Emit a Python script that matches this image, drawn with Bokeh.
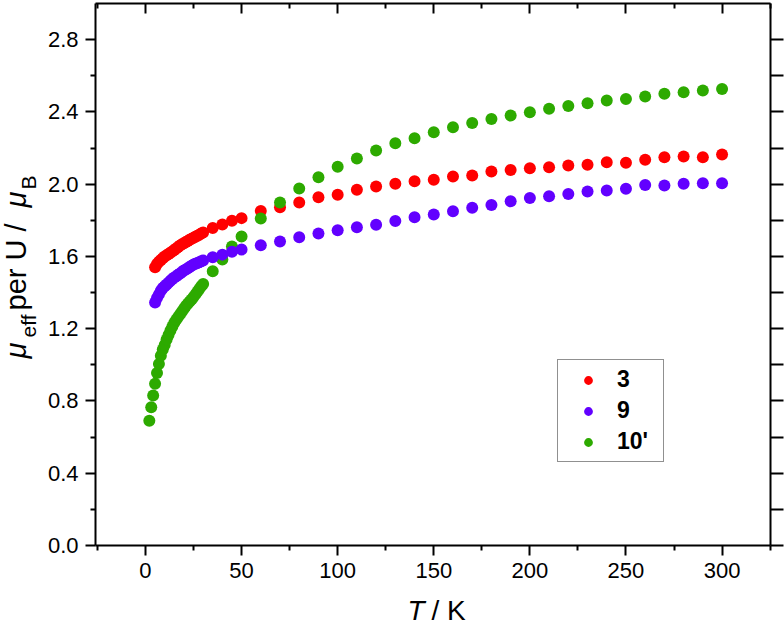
import math
from bokeh.plotting import figure
from bokeh.models import (LinearAxis, FixedTicker, NumeralTickFormatter, Range1d,
                          Label, Legend, LegendItem)
from bokeh.embed import file_html
from bokeh.resources import INLINE

# ---------------- data ----------------
t_3 = [5, 6, 7, 8, 9, 10, 11, 12, 13, 14, 15, 16, 17, 18, 19, 20, 21, 22, 23, 24, 25,
       26, 27, 28, 29, 30, 35, 40, 45, 50, 60, 70, 80, 90, 100, 110, 120, 130, 140, 150,
       160, 170, 180, 190, 200, 210, 220, 230, 240, 250, 260, 270, 280, 290, 300]
mu_3 = [1.540, 1.558, 1.570, 1.580, 1.590, 1.600, 1.606, 1.613, 1.620, 1.628, 1.635,
        1.644, 1.652, 1.660, 1.667, 1.673, 1.680, 1.686, 1.692, 1.698, 1.703, 1.709,
        1.715, 1.720, 1.727, 1.733, 1.757, 1.777, 1.797, 1.812, 1.852, 1.872, 1.898,
        1.927, 1.942, 1.969, 1.987, 2.002, 2.016, 2.025, 2.042, 2.048, 2.070, 2.079,
        2.088, 2.093, 2.103, 2.107, 2.121, 2.118, 2.135, 2.149, 2.153, 2.149, 2.164]

t_9 = [5, 6, 7, 8, 9, 10, 11, 12, 13, 14, 15, 16, 17, 18, 19, 20, 21, 22, 23, 24, 25,
       26, 27, 28, 29, 30, 35, 40, 45, 50, 60, 70, 80, 90, 100, 110, 120, 130, 140, 150,
       160, 170, 180, 190, 200, 210, 220, 230, 240, 250, 260, 270, 280, 290, 300]
mu_9 = [1.345, 1.370, 1.390, 1.410, 1.425, 1.435, 1.445, 1.455, 1.465, 1.475, 1.483,
        1.490, 1.498, 1.506, 1.514, 1.522, 1.528, 1.535, 1.542, 1.548, 1.555, 1.559,
        1.564, 1.568, 1.573, 1.577, 1.595, 1.610, 1.626, 1.638, 1.662, 1.683, 1.706,
        1.727, 1.745, 1.762, 1.775, 1.796, 1.817, 1.832, 1.850, 1.869, 1.885, 1.905,
        1.924, 1.933, 1.946, 1.959, 1.965, 1.974, 1.996, 1.992, 2.002, 2.005, 2.005]

t_10 = [2, 3, 4, 5, 6, 7, 8, 9, 10, 11, 12, 13, 14, 15, 16, 17, 18, 19, 20, 21, 22, 23,
        24, 25, 26, 27, 28, 29, 30, 35, 40, 45, 50, 60, 70, 80, 90, 100, 110, 120, 130,
        140, 150, 160, 170, 180, 190, 200, 210, 220, 230, 240, 250, 260, 270, 280, 290, 300]
mu_10 = [0.690, 0.765, 0.830, 0.895, 0.955, 1.005, 1.050, 1.085, 1.110, 1.140, 1.165,
         1.190, 1.212, 1.233, 1.250, 1.265, 1.280, 1.295, 1.310, 1.325, 1.338, 1.350,
         1.362, 1.375, 1.390, 1.405, 1.420, 1.435, 1.448, 1.518, 1.583, 1.655, 1.710,
         1.810, 1.898, 1.976, 2.038, 2.097, 2.142, 2.186, 2.226, 2.254, 2.287, 2.315,
         2.339, 2.361, 2.380, 2.398, 2.417, 2.433, 2.448, 2.463, 2.472, 2.485, 2.500,
         2.509, 2.518, 2.527]

series_names = ["3", "9", "10'"]
x_major = [0, 50, 100, 150, 200, 250, 300]
x_minor = [-25, 25, 75, 125, 175, 225, 275, 325]
y_major = [0.0, 0.4, 0.8, 1.2, 1.6, 2.0, 2.4, 2.8]
y_minor = [0.2, 0.6, 1.0, 1.4, 1.8, 2.2, 2.6]

# ---------------- geometry / styling ----------------
RED = "#FF0000"
PURPLE = "#6200FF"
GREEN = "#2DAA00"
FONT = "Liberation Sans"
W, H = 784, 627

# axis box: data limits and where they sit on the page
XL, XR = -26.0, 325.2
YB, YT = 0.0, 3.0
BOX_L, BOX_R, BOX_B, BOX_T = 95.0, 770.0, 545.0, 3.0
SX = (BOX_R - BOX_L) / (XR - XL)
SY = (BOX_B - BOX_T) / (YT - YB)
X0, X1 = XL - BOX_L / SX, XR + (W - BOX_R) / SX
Y0, Y1 = YB - (H - BOX_B) / SY, YT + BOX_T / SY

p = figure(width=W, height=H, x_range=Range1d(X0, X1), y_range=Range1d(Y0, Y1),
           output_backend="svg", toolbar_location=None,
           x_axis_location=None, y_axis_location=None,
           min_border=0, min_border_left=0, min_border_right=0,
           min_border_top=0, min_border_bottom=0)
p.outline_line_color = None
p.background_fill_color = "white"
p.border_fill_color = "white"
p.grid.visible = False


def style_axis(ax, show_labels, tin, tout, min_in, min_out):
    ax.axis_line_color = "black"
    ax.axis_line_width = 2
    ax.major_tick_line_color = "black"
    ax.minor_tick_line_color = "black"
    ax.major_tick_line_width = 2
    ax.minor_tick_line_width = 2
    ax.major_tick_in = tin
    ax.major_tick_out = tout
    ax.minor_tick_in = min_in
    ax.minor_tick_out = min_out
    ax.major_label_text_font = FONT
    ax.major_label_text_font_size = "22px"
    ax.major_label_text_color = "black" if show_labels else None


xb = LinearAxis(ticker=FixedTicker(ticks=x_major, minor_ticks=x_minor),
                fixed_location=YB, bounds=(XL, XR))
style_axis(xb, True, 0, 10, 0, 5)
xb.major_label_standoff = 7
p.add_layout(xb, "below")

xt = LinearAxis(ticker=FixedTicker(ticks=x_major, minor_ticks=x_minor),
                fixed_location=YT, bounds=(XL, XR))
style_axis(xt, False, 10, 0, 5, 0)
p.add_layout(xt, "above")

yl = LinearAxis(ticker=FixedTicker(ticks=y_major, minor_ticks=y_minor),
                formatter=NumeralTickFormatter(format="0.0"),
                fixed_location=XL, bounds=(YB, YT))
style_axis(yl, True, 0, 10, 0, 5)
yl.major_label_standoff = 7
p.add_layout(yl, "left")

yr = LinearAxis(ticker=FixedTicker(ticks=y_major, minor_ticks=y_minor),
                fixed_location=XR, bounds=(YB, YT))
style_axis(yr, False, 0, 13, 0, 13)
p.add_layout(yr, "right")

r3 = p.scatter(t_3, mu_3, size=12, fill_color=RED, line_color=None)
r10 = p.scatter(t_10, mu_10, size=12, fill_color=GREEN, line_color=None)
r9 = p.scatter(t_9, mu_9, size=12, fill_color=PURPLE, line_color=None)

legend = Legend(items=[LegendItem(label=series_names[0], renderers=[r3]),
                       LegendItem(label=series_names[1], renderers=[r9]),
                       LegendItem(label=series_names[2], renderers=[r10])],
                location=(557, H - 462))
legend.border_line_color = "#222222"
legend.border_line_width = 1
legend.background_fill_color = "white"
legend.background_fill_alpha = 1
legend.label_text_font = FONT
legend.label_text_font_style = "bold"
legend.label_text_font_size = "23px"
legend.label_text_color = "black"
legend.padding = 6
legend.spacing = 4
legend.margin = 0
legend.glyph_width = 48
legend.glyph_height = 22
legend.label_height = 22
legend.label_width = 40
legend.label_standoff = 5
p.add_layout(legend)


# ---------------- axis titles (page pixels -> data units) ----------------
def px2x(px):
    return XL + (px - BOX_L) / SX


def py2y(py):
    return YB + (BOX_B - py) / SY


def add_text(txt, px, py, size, style="normal", angle=0.0):
    p.add_layout(Label(x=px2x(px), y=py2y(py), text=txt, angle=angle,
                       text_font=FONT, text_font_size=size, text_font_style=style,
                       text_color="black", text_align="left",
                       text_baseline="alphabetic"))


A = math.pi / 2
add_text("\u03bc", 15, 358, "29px", "italic", A)
add_text("eff", 28, 337, "21px", "normal", A)
add_text("per U /", 15, 310, "29px", "normal", A)
add_text("\u03bc", 15, 207, "29px", "italic", A)
add_text("B", 28, 189, "21px", "normal", A)

add_text("T", 407, 610, "28px", "italic")
add_text("/ K", 431, 610, "28px", "normal")

open("out.html", "w").write(file_html(p, INLINE))
